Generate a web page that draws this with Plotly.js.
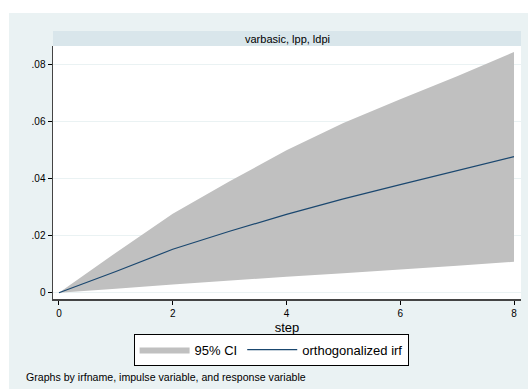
<!DOCTYPE html>
<html>
<head>
<meta charset="utf-8">
<script src="https://cdn.plot.ly/plotly-3.0.1.min.js"></script>
<style>html,body{margin:0;padding:0;background:#fff;}#chart{width:528px;height:389px;}</style>
</head>
<body>
<div id="chart"></div>
<script>
var steps = [0, 1, 2, 3, 4, 5, 6, 7, 8];
var irf   = [0, 0.0074, 0.0152, 0.0215, 0.0274, 0.0328, 0.0378, 0.0426, 0.0476];
var ciUpper = [0, 0.0140, 0.0276, 0.0390, 0.0498, 0.0594, 0.0677, 0.0757, 0.0842];
var ciLower = [0, 0.0014, 0.0029, 0.0043, 0.0056, 0.0068, 0.0080, 0.0094, 0.0108];
var yTickVals = [0, 0.02, 0.04, 0.06, 0.08];
var yTickText = ["0", ".02", ".04", ".06", ".08"];
var xTickVals = [0, 2, 4, 6, 8];
var panelTitle = "varbasic, lpp, ldpi";
var noteText = "Graphs by irfname, impulse variable, and response variable";

var bandX = steps.concat(steps.slice().reverse());
var bandY = ciUpper.concat(ciLower.slice().reverse());

var font = "Liberation Sans, Arial, Helvetica, sans-serif";

var traces = [
  {
    x: bandX, y: bandY, type: "scatter", mode: "lines",
    fill: "toself", fillcolor: "#c0c0c0",
    line: {width: 0, color: "#c0c0c0"},
    name: "95% CI", hoverinfo: "skip"
  },
  {
    x: steps, y: irf, type: "scatter", mode: "lines",
    line: {width: 1.2, color: "#1a476f"},
    name: "orthogonalized irf"
  }
];

var layout = {
  width: 528, height: 389,
  margin: {l: 53, r: 7, t: 46, b: 90},
  paper_bgcolor: "#ffffff",
  plot_bgcolor: "#ffffff",
  font: {family: font, color: "#000", size: 10},
  showlegend: true,
  legend: {
    orientation: "h", x: 0.466, xanchor: "center", y: -0.2, yanchor: "middle",
    bgcolor: "#ffffff", bordercolor: "#000", borderwidth: 1,
    font: {size: 13, family: font, color: "#000"},
    itemwidth: 50, traceorder: "normal"
  },
  xaxis: {
    range: [-0.105, 8.123], tickvals: xTickVals, ticks: "outside", ticklen: 4,
    tickcolor: "#000", showgrid: false, zeroline: false,
    showline: true, linecolor: "#444", linewidth: 1.5,
    tickfont: {size: 10},
    title: {text: "step", font: {size: 13}, standoff: 5}
  },
  yaxis: {
    range: [-0.0022, 0.0863], tickvals: yTickVals, ticktext: yTickText,
    ticks: "outside", ticklen: 4, tickcolor: "#000",
    showgrid: true, gridcolor: "#eaf2f3", gridwidth: 1, zeroline: false,
    showline: true, linecolor: "#444", linewidth: 1.5,
    tickfont: {size: 10}
  },
  shapes: [
    {type: "rect", xref: "paper", yref: "paper", layer: "below",
     x0: -0.094, x1: 1.02, y0: -0.36, y1: 1.130,
     fillcolor: "#eaf2f3", line: {width: 0}},
    {type: "rect", xref: "paper", yref: "paper", layer: "below",
     x0: 0, x1: 1, y0: 0, y1: 1, fillcolor: "#ffffff", line: {width: 0}},
    {type: "rect", xref: "paper", yref: "paper", layer: "below",
     x0: 0, x1: 1, y0: 1, y1: 1.059, fillcolor: "#d9e6eb", line: {width: 0}}
  ],
  annotations: [
    {text: panelTitle, xref: "paper", yref: "paper", x: 0.5, y: 1.0295,
     xanchor: "center", yanchor: "middle", showarrow: false,
     font: {size: 11, family: font, color: "#000"}},
    {text: noteText, xref: "paper", yref: "paper", x: -0.062, y: -0.308,
     xanchor: "left", yanchor: "middle", showarrow: false,
     font: {size: 10.6, family: font, color: "#000"}}
  ]
};

Plotly.newPlot("chart", traces, layout, {staticPlot: true, displayModeBar: false});
</script>
</body>
</html>
